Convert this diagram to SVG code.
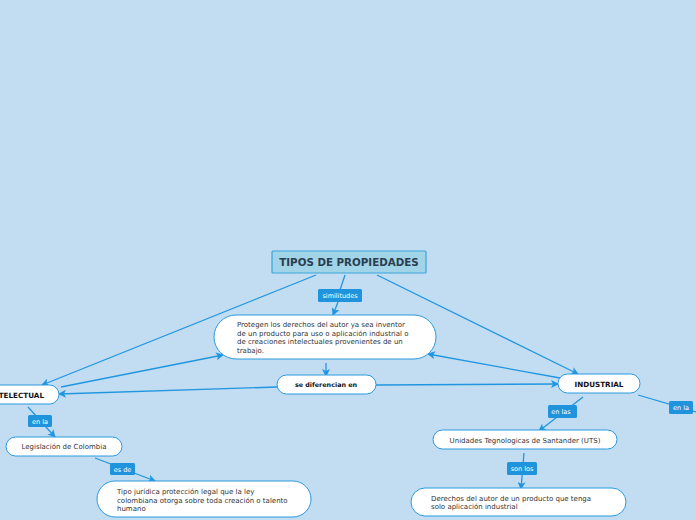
<svg xmlns="http://www.w3.org/2000/svg" width="696" height="520" viewBox="0 0 696 520">
<defs>
<marker id="ah" markerWidth="8" markerHeight="8" refX="7" refY="4" orient="auto" markerUnits="userSpaceOnUse">
<path d="M0,0 L8,4 L0,8 L2,4 Z" fill="#2196e0"/>
</marker>
<style>
.c{stroke:#2196e0;stroke-width:1.3;fill:none}
.a{marker-end:url(#ah)}
.n{fill:#ffffff;stroke:#2a9ae0;stroke-width:1}
.t{font-family:"DejaVu Sans",Verdana,sans-serif;font-size:7px;fill:#333333}
.b{font-family:"DejaVu Sans",Verdana,sans-serif;font-size:7.2px;font-weight:bold;fill:#111111}
.lb{fill:#1f94dd}
.lt{font-family:"DejaVu Sans",Verdana,sans-serif;font-size:6.5px;fill:#ffffff;text-anchor:middle}
</style>
</defs>
<rect width="696" height="520" fill="#c2ddf1"/>
<g id="connectors">
<line class="c a" x1="316" y1="275" x2="42" y2="385"/>
<line class="c a" x1="377" y1="275" x2="578" y2="374"/>
<line class="c" x1="345" y1="275" x2="340" y2="290"/>
<line class="c a" x1="338" y1="302" x2="333" y2="315"/>
<line class="c a" x1="61" y1="387" x2="223" y2="355"/>
<line class="c a" x1="560" y1="378" x2="428" y2="354"/>
<line class="c a" x1="326" y1="363" x2="326" y2="376"/>
<line class="c a" x1="277" y1="387" x2="59" y2="394"/>
<line class="c a" x1="376" y1="385" x2="558" y2="384"/>
<line class="c a" x1="28" y1="407" x2="55" y2="437"/>
<line class="c a" x1="95" y1="458" x2="155" y2="481"/>
<line class="c a" x1="583" y1="397" x2="539" y2="431"/>
<line class="c" x1="638" y1="395" x2="696" y2="412"/>
<line class="c a" x1="524" y1="453" x2="521" y2="489"/>
<g id="lbl-similitudes"><rect class="lb" x="318" y="289" width="44" height="13" rx="1.5"/><text class="lt" x="340" y="298">similitudes</text></g>
<g id="lbl-enla1"><rect class="lb" x="28" y="415" width="24" height="12" rx="1.5"/><text class="lt" x="40" y="424">en la</text></g>
<g id="lbl-esde"><rect class="lb" x="110" y="463" width="25" height="12" rx="1.5"/><text class="lt" x="122.5" y="472">es de</text></g>
<g id="lbl-enlas"><rect class="lb" x="548" y="405" width="29" height="13" rx="1.5"/><text class="lt" x="561" y="414">en las</text></g>
<g id="lbl-enla2"><rect class="lb" x="669" y="401" width="24" height="13" rx="1.5"/><text class="lt" x="681" y="410">en la</text></g>
<g id="lbl-sonlos"><rect class="lb" x="507" y="462" width="30" height="13" rx="1.5"/><text class="lt" x="522" y="471">son los</text></g>
</g>
<g id="root">
<rect x="272" y="251" width="154" height="22" fill="#a0d4e6" stroke="#3aa4dc" stroke-width="1.2" rx="1"/>
<text x="349" y="266" font-family="'DejaVu Sans',Verdana,sans-serif" font-size="10.3" font-weight="bold" fill="#2b3e50" text-anchor="middle">TIPOS DE PROPIEDADES</text>
</g>
<g id="protegen">
<rect class="n" x="214" y="315" width="222" height="44" rx="22"/>
<text class="t" x="237" y="327">Protegen los derechos del autor ya sea inventor</text>
<text class="t" x="237" y="335.5">de un producto para uso o aplicación industrial o</text>
<text class="t" x="237" y="344">de creaciones intelectuales provenientes de un</text>
<text class="t" x="237" y="352.5">trabajo.</text>
</g>
<g id="diferencian">
<rect class="n" x="277" y="375" width="99" height="19" rx="9.5"/>
<text class="b" x="326" y="387" text-anchor="middle" style="font-size:6.4px">se diferencian en</text>
</g>
<g id="intelectual">
<rect class="n" x="-25" y="385" width="84" height="19" rx="9.5"/>
<text class="b" x="17" y="397.5" text-anchor="middle">INTELECTUAL</text>
</g>
<g id="industrial">
<rect class="n" x="558" y="374" width="82" height="19" rx="9.5"/>
<text class="b" x="599" y="387" text-anchor="middle">INDUSTRIAL</text>
</g>
<g id="legislacion">
<rect class="n" x="6" y="437" width="116" height="19" rx="9.5"/>
<text class="t" x="64" y="449" text-anchor="middle">Legislación de Colombia</text>
</g>
<g id="tipo">
<rect class="n" x="97" y="481" width="214" height="36" rx="18"/>
<text class="t" x="117" y="494">Tipo jurídica protección legal que la ley</text>
<text class="t" x="117" y="502.5">colombiana otorga  sobre toda creación o talento</text>
<text class="t" x="117" y="511">humano</text>
</g>
<g id="unidades">
<rect class="n" x="433" y="430" width="184" height="19" rx="9.5"/>
<text class="t" x="525" y="443" text-anchor="middle">Unidades Tegnologicas de Santander (UTS)</text>
</g>
<g id="derechos">
<rect class="n" x="411" y="488" width="215" height="28" rx="14"/>
<text class="t" x="431" y="500.5">Derechos del autor de un producto que tenga</text>
<text class="t" x="431" y="509">solo aplicación industrial</text>
</g>
</svg>
